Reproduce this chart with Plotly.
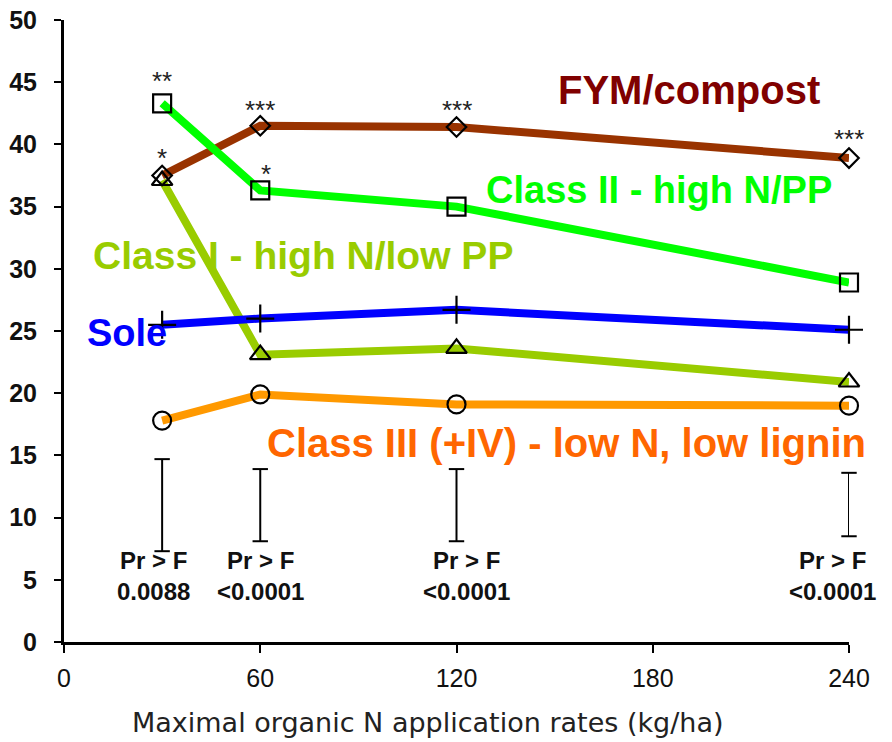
import plotly.graph_objects as go

# ---- data ----
rates = [30, 60, 120, 240]

fym = [37.5, 41.5, 41.4, 38.9]
class_ii = [43.3, 36.3, 35.0, 28.9]
class_i = [37.1, 23.1, 23.6, 20.9]
sole = [25.5, 26.0, 26.7, 25.1]
class_iii = [17.8, 19.9, 19.1, 19.0]

# LSD-type bars (low, high) and the ANOVA p values under them
bar_x = [30, 60, 120, 240]
bar_low = [7.3, 8.1, 8.1, 8.5]
bar_high = [14.7, 13.9, 13.9, 13.6]
p_labels = ["Pr > F<br>0.0088", "Pr > F<br><0.0001", "Pr > F<br><0.0001", "Pr > F<br><0.0001"]
p_x = [27.5, 60, 123, 235]

# significance stars (x, y, text)
stars = [(30, 45.1, "**"), (30, 38.9, "*"), (60, 42.8, "***"), (61.8, 37.6, "*"),
         (120, 42.8, "***"), (240, 40.4, "***")]

series = [
    ("FYM/compost", fym, "#993300", "diamond-open", 15),
    ("Class II - high N/PP", class_ii, "#00FF00", "square-open", 18),
    ("Class I - high N/low PP", class_i, "#99CC00", "triangle-up-open", 18),
    ("Sole", sole, "#0000FF", "cross-thin-open", 20),
    ("Class III (+IV) - low N, low lignin", class_iii, "#FF9900", "circle-open", 18),
]

fig = go.Figure()

for name, vals, col, sym, sz in series:
    fig.add_trace(go.Scatter(x=rates, y=vals, mode='lines', name=name,
                             line=dict(color=col, width=8), showlegend=False))
for name, vals, col, sym, sz in series:
    fig.add_trace(go.Scatter(x=rates, y=vals, mode='markers', showlegend=False,
                             cliponaxis=False,
                             marker=dict(symbol=sym, size=sz, color='black',
                                         line=dict(color='black', width=2.2))))

# error bars: vertical stem from error_y, caps as markers so the last one is not clipped
fig.add_trace(go.Scatter(
    x=bar_x, y=[(a + b) / 2 for a, b in zip(bar_low, bar_high)], mode='markers',
    marker=dict(size=1, color='rgba(0,0,0,0)'), showlegend=False, cliponaxis=False,
    error_y=dict(type='data', symmetric=True,
                 array=[(b - a) / 2 for a, b in zip(bar_low, bar_high)],
                 color='black', thickness=2, width=0)))
fig.add_trace(go.Scatter(
    x=bar_x + bar_x, y=bar_low + bar_high, mode='markers', showlegend=False, cliponaxis=False,
    marker=dict(symbol='line-ew-open', size=11, color='black',
                line=dict(color='black', width=2))))

# series labels
labels = [
    ("FYM/compost", 191, 44.4, "#800000", 40),
    ("Class II - high N/PP", 182, 36.3, "#00FF00", 38),
    ("Class I - high N/low PP", 73, 31.1, "#99CC00", 39),
    ("Sole", 19.3, 24.8, "#0000FF", 38),
    ("Class III (+IV) - low N, low lignin", 153.5, 16.0, "#FF6600", 40),
]
for txt, x, y, col, fs in labels:
    fig.add_annotation(x=x, y=y, text="<b>" + txt + "</b>", showarrow=False,
                       font=dict(family="Liberation Sans, Arial", size=fs, color=col),
                       xanchor='center', yanchor='middle')

for sx, sy, st in stars:
    fig.add_annotation(x=sx, y=sy, text=st, showarrow=False,
                       font=dict(family="Liberation Sans, Arial", size=26, color='#222222'))

for px, pl in zip(p_x, p_labels):
    fig.add_annotation(x=px, y=5.3, text="<b>" + pl + "</b>", showarrow=False,
                       font=dict(family="Liberation Sans, Arial", size=24, color='#111111'),
                       align='center')

# x axis title, placed by hand (it sits left of the plot centre in the reference)
fig.add_annotation(x=0.464, y=-0.129, xref='paper', yref='paper', showarrow=False,
                   text="Maximal organic N application rates (kg/ha)",
                   xanchor='center', yanchor='middle',
                   font=dict(family="DejaVu Sans, Verdana", size=27, color='#222222'))

fig.update_layout(
    width=892, height=742,
    margin=dict(l=64, r=43, t=20, b=100),
    paper_bgcolor='white', plot_bgcolor='white',
    xaxis=dict(range=[0, 240], tickvals=[0, 60, 120, 180, 240], showgrid=False, zeroline=False,
               showline=True, linecolor='black', linewidth=3, ticks='outside', ticklen=8,
               tickwidth=2, tickcolor='black', ticklabelstandoff=4, automargin=False,
               tickfont=dict(family="Liberation Sans, Arial", size=25, color='#111111')),
    yaxis=dict(range=[0, 50], dtick=5, showgrid=False, zeroline=False,
               showline=True, linecolor='black', linewidth=3, ticks='outside', ticklen=7,
               tickwidth=2, tickcolor='black', ticklabelstandoff=12, automargin=False,
               tickfont=dict(family="Liberation Sans, Arial", size=25, color='#111111')),
)
fig.update_xaxes(tickprefix="<b>", ticksuffix="</b>")
fig.update_yaxes(tickprefix="<b>", ticksuffix="</b>")

fig.write_html("out.html", config={'displayModeBar': False},
               post_script="document.body.style.margin='0';")
